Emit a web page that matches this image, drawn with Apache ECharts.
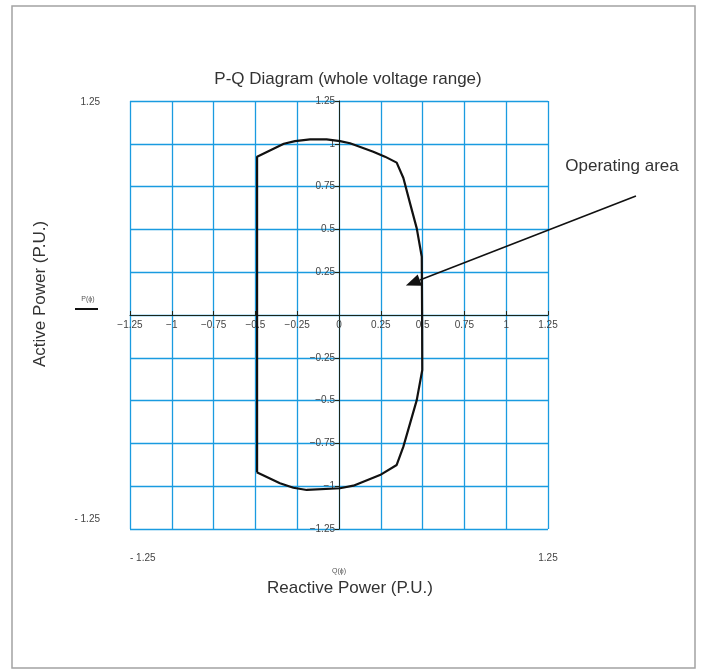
<!DOCTYPE html>
<html>
<head>
<meta charset="utf-8">
<script src="https://cdn.jsdelivr.net/npm/echarts@6/dist/echarts.min.js"></script>
<style>html,body{margin:0;padding:0;background:#fff;}#c{width:702px;height:669px;}</style>
</head>
<body>
<div id="c"></div>
<script>
// Capability boundary (Q, P) in per unit, traced clockwise from the top-left corner
var boundaryQ = [-0.49, -0.49, -0.33, -0.263, -0.173, -0.074, 0.006, 0.066, 0.205, 0.275, 0.345, 0.385, 0.425, 0.465, 0.495, 0.497,
                 0.498, 0.465, 0.425, 0.385, 0.345, 0.245, 0.086, 0.006, -0.193, -0.273, -0.353, -0.492, -0.49];
var boundaryP = [-0.919, 0.925, 1.0, 1.016, 1.026, 1.026, 1.016, 1.003, 0.954, 0.925, 0.89, 0.80, 0.652, 0.506, 0.34, 0.0,
                 -0.321, -0.497, -0.633, -0.769, -0.876, -0.935, -0.997, -1.012, -1.022, -1.009, -0.983, -0.919, -0.919];
var axisMin = -1.25, axisMax = 1.25, axisStep = 0.25;
var outerTickLabels = {min: '- 1.25', max: '1.25'};
var arrowFrom = [1.776, 0.695];   // annotation arrow start (Q, P)
var arrowTo = [0.40, 0.172];      // annotation arrow tip (Q, P)
var titleText = 'P-Q Diagram (whole voltage range)';
var xName = 'Reactive Power (P.U.)';
var yName = 'Active Power (P.U.)';
var annotationText = 'Operating area';

var FONT = 'Liberation Sans, Arial, Helvetica, sans-serif';
var GRIDBLUE = '#1a9be0';
var G = {left: 130, right: 154, top: 101, bottom: 140};
var plotW = 702 - G.left - G.right, plotH = 669 - G.top - G.bottom;

var data = boundaryQ.map(function (q, i) { return [q, boundaryP[i]]; });
function fmtMain(v) {
  if (Math.abs(v) < 1e-9) return '0';
  return String(+v.toFixed(2)).replace('-', '\u2212');
}

var chart = echarts.init(document.getElementById('c'), null, {renderer: 'canvas'});
var option = {
  animation: false,
  backgroundColor: '#fff',
  title: {
    text: titleText, left: 343, top: 66, textAlign: 'center',
    textStyle: {fontFamily: FONT, fontSize: 17, fontWeight: 'normal', color: '#333'}
  },
  grid: [
    {left: G.left, right: G.right, top: G.top, bottom: G.bottom, show: false},
    {left: G.left, right: G.right, top: G.top + 1, bottom: G.bottom + 10, show: false}
  ],
  xAxis: [{
    gridIndex: 0, type: 'value', min: axisMin, max: axisMax, interval: axisStep,
    position: 'bottom', offset: -plotH / 2,
    axisLine: {show: true, onZero: false, lineStyle: {color: '#1b261b', width: 1}},
    axisTick: {show: true, inside: true, length: 4, lineStyle: {color: '#1b261b'}},
    axisLabel: {formatter: fmtMain, color: '#444', fontSize: 10, fontFamily: FONT, margin: 5, showMinLabel: true, showMaxLabel: true},
    splitLine: {show: true, showMinLine: true, showMaxLine: true, lineStyle: {color: GRIDBLUE, width: 1.3}},
    z: 3
  }, {
    gridIndex: 1, type: 'value', position: 'bottom', min: axisMin, max: axisMax, interval: axisMax - axisMin,
    axisLine: {show: false, onZero: false}, axisTick: {show: false}, splitLine: {show: false},
    axisLabel: {
      formatter: function (v) { return v < 0 ? outerTickLabels.min : outerTickLabels.max; },
      color: '#444', fontSize: 10, fontFamily: FONT, margin: 34,
      alignMinLabel: 'left', alignMaxLabel: 'center'
    },
    name: 'Q(\u03d5)', nameLocation: 'middle', nameGap: 36,
    nameTextStyle: {fontSize: 7, color: '#555', fontFamily: FONT}
  }],
  yAxis: [{
    gridIndex: 0, type: 'value', min: axisMin, max: axisMax, interval: axisStep,
    position: 'left', offset: -plotW / 2,
    axisLine: {show: true, onZero: false, lineStyle: {color: '#1b261b', width: 1}},
    axisTick: {show: true, inside: false, length: 4, lineStyle: {color: '#1b261b'}},
    axisLabel: {
      formatter: function (v) { return Math.abs(v) < 1e-9 ? '' : fmtMain(v); },
      color: '#444', fontSize: 10, fontFamily: FONT, margin: 4
    },
    splitLine: {show: true, showMinLine: true, showMaxLine: true, lineStyle: {color: GRIDBLUE, width: 1.3}},
    z: 3
  }, {
    gridIndex: 1, type: 'value', position: 'left', min: axisMin, max: axisMax, interval: axisMax - axisMin,
    axisLine: {show: false, onZero: false}, axisTick: {show: false}, splitLine: {show: false},
    axisLabel: {
      formatter: function (v) { return v < 0 ? outerTickLabels.min : outerTickLabels.max; },
      color: '#444', fontSize: 10, fontFamily: FONT, margin: 30
    }
  }],
  series: [{
    type: 'line', data: data, xAxisIndex: 0, yAxisIndex: 0,
    showSymbol: false, symbol: 'none', clip: false, smooth: false,
    lineStyle: {color: '#111', width: 2.2}, z: 5
  }]
};
chart.setOption(option);

// annotations placed through the chart's own coordinate conversion
var p0 = chart.convertToPixel({gridIndex: 0}, arrowFrom);
var p1 = chart.convertToPixel({gridIndex: 0}, arrowTo);
var ang = Math.atan2(p1[1] - p0[1], p1[0] - p0[0]);
var headLen = 15, headHalf = 6;
var bx = p1[0] - headLen * Math.cos(ang), by = p1[1] - headLen * Math.sin(ang);
var nx = -Math.sin(ang), ny = Math.cos(ang);

chart.setOption({
  graphic: [
    {type: 'rect', shape: {x: 12, y: 6, width: 683, height: 662}, style: {fill: 'none', stroke: '#a3a3a3', lineWidth: 1.5}, silent: true, z: -10},
    {type: 'line', shape: {x1: p0[0], y1: p0[1], x2: bx, y2: by}, style: {stroke: '#111', lineWidth: 1.6}, z: 10},
    {type: 'polygon', shape: {points: [[p1[0], p1[1]], [bx + nx * headHalf, by + ny * headHalf], [bx - nx * headHalf, by - ny * headHalf]]}, style: {fill: '#111'}, z: 10},
    {type: 'text', x: 622, y: 166, style: {text: annotationText, font: '17px ' + FONT, fill: '#333', align: 'center', verticalAlign: 'middle'}, z: 10},
    {type: 'text', x: 350, y: 588, style: {text: xName, font: '17px ' + FONT, fill: '#333', align: 'center', verticalAlign: 'middle'}, z: 10},
    {type: 'text', x: 40, y: 294, rotation: Math.PI / 2, style: {text: yName, font: '17px ' + FONT, fill: '#333', align: 'center', verticalAlign: 'middle'}, z: 10},
    {type: 'text', x: 88, y: 299, style: {text: 'P(\u03d5)', font: '7px ' + FONT, fill: '#555', align: 'center', verticalAlign: 'middle'}, z: 10},
    {type: 'line', shape: {x1: 75, y1: 309, x2: 98, y2: 309}, style: {stroke: '#111', lineWidth: 2}, z: 10}
  ]
});
</script>
</body>
</html>
